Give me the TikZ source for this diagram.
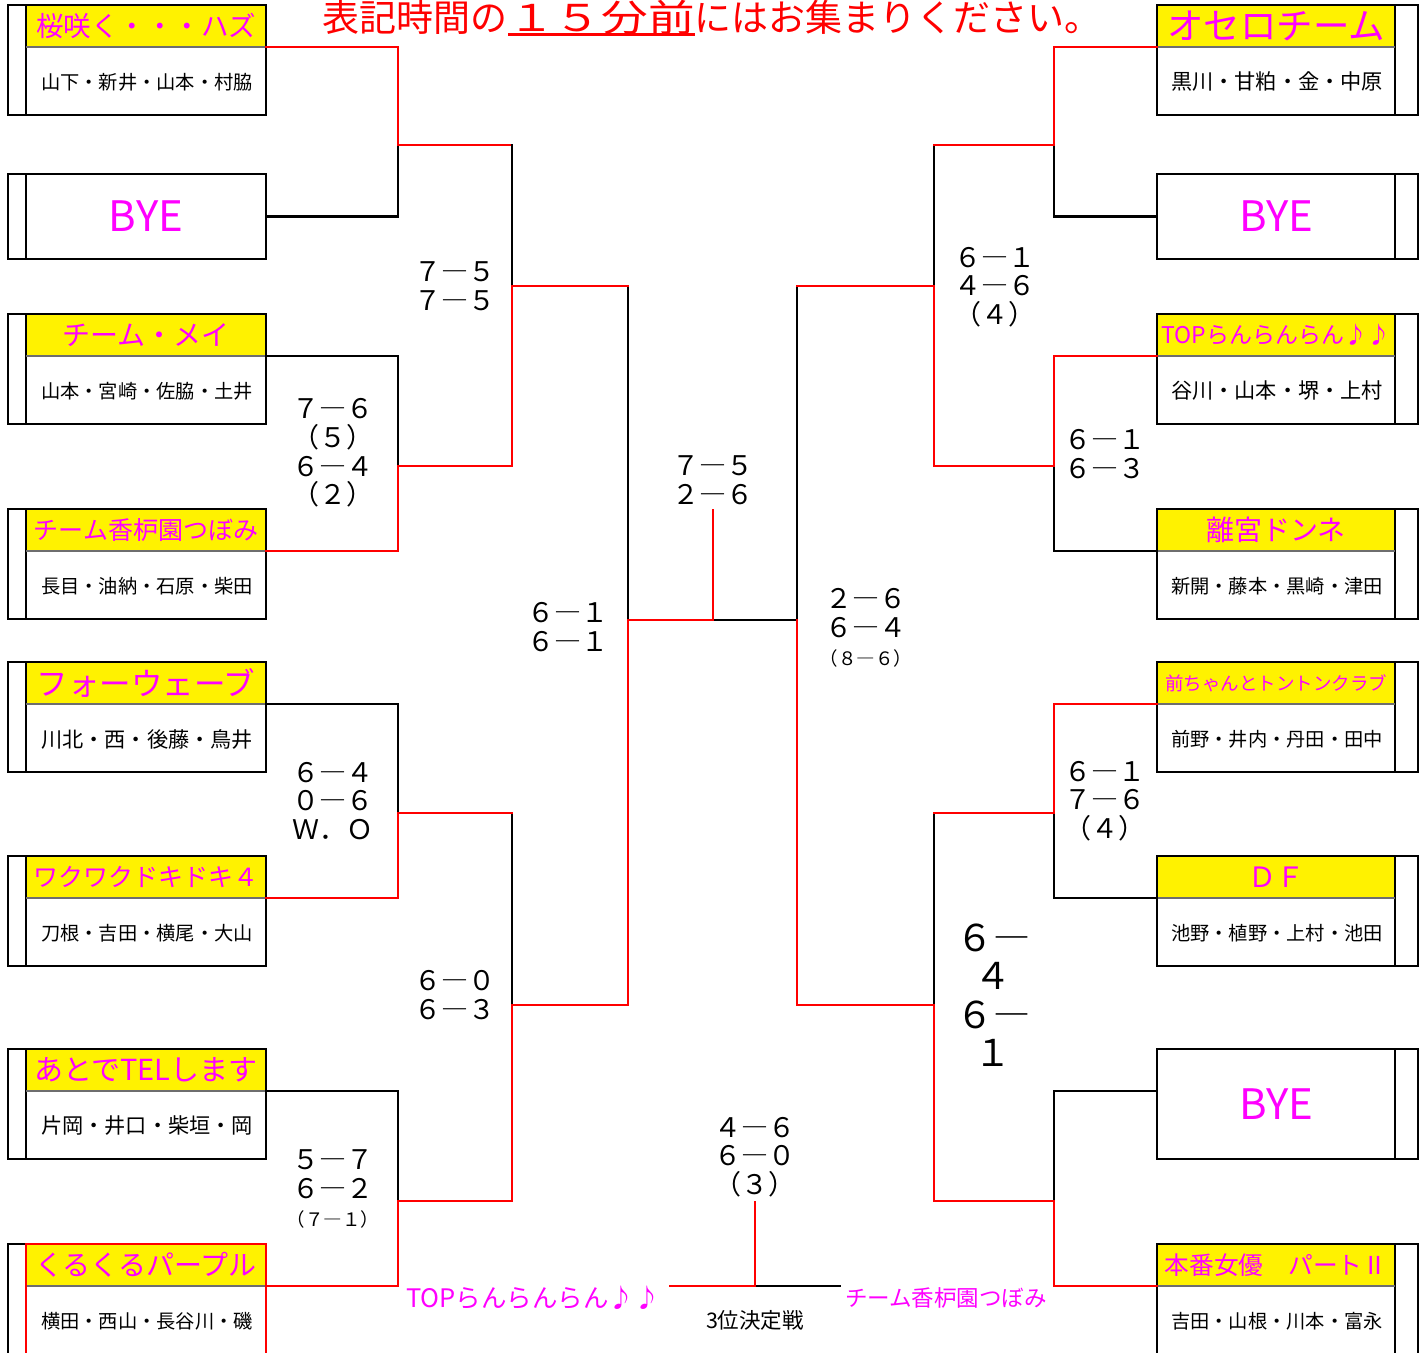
\documentclass[tikz,border=0pt]{standalone}
\usepackage{fontspec}
\usepackage{graphicx}
\setmainfont{Noto Sans CJK JP}
\definecolor{mag}{RGB}{255,0,255}
\definecolor{sepgray}{RGB}{110,110,110}
\newcommand\fs[1]{\fontsize{#1pt}{#1pt}\selectfont}
\newcommand\memtxt[1]{\resizebox{212pt}{!}{#1}}
\tikzset{
  win/.style={red, line width=2.2pt, line cap=rect},
  lose/.style={black, line width=2.2pt, line cap=rect},
  boxln/.style={black, line width=1.3pt},
  sepln/.style={sepgray, line width=2pt},
  hdr/.style={fill=yellow, minimum height=42pt, inner sep=0pt, text=mag},
  mem/.style={inner sep=0pt, text=black, font=\fs{21}},
  byebox/.style={inner sep=0pt, text=mag, font=\fs{42}},
  score/.style={inner sep=0pt, align=center, text=black, font=\fontsize{27pt}{28.7pt}\selectfont},
  lbl/.style={inner sep=0pt, text=mag},
}
\newcommand\lteam[5]{%
  \node[hdr, font=\fs{#3}, minimum width=240pt] (#1) at (146,{#2+21}) {#4};
  \draw[boxln] (8,#2) rectangle (266,{#2+110}) (26,#2) -- (26,{#2+110});
  \draw[sepln] (#1.south west) -- (#1.south east);
  \node[mem] (#1m) at (147,{#2+77}) {\memtxt{#5}};
}
\newcommand\rteam[5]{%
  \node[hdr, font=\fs{#3}, minimum width=238pt] (#1) at (1276,{#2+21}) {#4};
  \draw[boxln] (1157,#2) rectangle (1418,{#2+110}) (1395,#2) -- (1395,{#2+110});
  \draw[sepln] (#1.south west) -- (#1.south east);
  \node[mem] (#1m) at (1277,{#2+77}) {\memtxt{#5}};
}
\begin{document}
\begin{tikzpicture}[x=1pt,y=-1pt]
\useasboundingbox (0,0) rectangle (1424,1352);
\fill[white] (0,0) rectangle (1424,1352);
\clip (0,0) rectangle (1424,1352);

% title
\node[anchor=base west, inner sep=0pt, text=red, font=\fs{37}] (tA) at (322,31) {表記時間の};
\node[anchor=base west, inner sep=0pt, text=red, font=\fs{37}] (tB) at (508,31) {\scalebox{1.26}[1]{１５分前}};
\node[anchor=base west, inner sep=0pt, text=red, font=\fs{37}] (tC) at (694,31) {にはお集まりください。};
\draw[red, line width=3pt] ([yshift=-3.5pt]tB.base west) -- ([yshift=-3.5pt]tB.base east);

% left teams
\lteam{L1}{5}{27.5}{桜咲く・・・ハズ}{山下・新井・山本・村脇}
\node[byebox, minimum width=240pt, minimum height=85pt] (L2) at (146,216.5) {BYE};
\draw[boxln] (8,174) rectangle (266,259) (26,174) -- (26,259);
\lteam{L3}{314}{28}{チーム・メイ}{山本・宮崎・佐脇・土井}
\lteam{L4}{509}{25}{チーム香枦園つぼみ}{長目・油納・石原・柴田}
\lteam{L5}{662}{31.5}{フォーウェーブ}{川北・西・後藤・鳥井}
\lteam{L6}{856}{25}{ワクワクドキドキ４}{刀根・吉田・横尾・大山}
\lteam{L7}{1049}{29}{あとでTELします}{片岡・井口・柴垣・岡}
% left box 8 (highlighted)
\node[hdr, font=\fs{28}, minimum width=240pt] (L8) at (146,1265) {くるくるパープル};
\draw[boxln] (8,1360) -- (8,1244) -- (26,1244);
\draw[red, line width=2.5pt] (26,1360) -- (26,1244) -- (266,1244) -- (266,1360);
\draw[sepln] ([xshift=1.3pt]L8.south west) -- ([xshift=-1.3pt]L8.south east);
\node[mem] (L8m) at (147,1321) {\memtxt{横田・西山・長谷川・磯}};

% right teams
\rteam{R1}{5}{36.5}{オセロチーム}{黒川・甘粕・金・中原}
\node[byebox, minimum width=238pt, minimum height=85pt] (R2) at (1276,216.5) {BYE};
\draw[boxln] (1157,174) rectangle (1418,259) (1395,174) -- (1395,259);
\rteam{R3}{314}{23}{TOPらんらんらん♪♪}{谷川・山本・堺・上村}
\rteam{R4}{509}{28}{離宮ドンネ}{新開・藤本・黒崎・津田}
\rteam{R5}{662}{18.5}{前ちゃんとトントンクラブ}{前野・井内・丹田・田中}
\rteam{R6}{856}{28}{ＤＦ}{池野・植野・上村・池田}
\node[byebox, minimum width=238pt, minimum height=110pt] (R7) at (1276,1104) {BYE};
\draw[boxln] (1157,1049) rectangle (1418,1159) (1395,1049) -- (1395,1159);
\coordinate (r7a) at (1157,1091);
\rteam{R8}{1244}{24.7}{本番女優　パートⅡ}{吉田・山根・川本・富永}

% junction coordinates
\coordinate (a1) at (398,145);
\coordinate (a2) at (398,466);
\coordinate (a3) at (398,813);
\coordinate (a4) at (398,1201);
\coordinate (b1) at (512,286);
\coordinate (b2) at (512,1005);
\coordinate (c1) at (628,620);
\coordinate (d1) at (1054,145);
\coordinate (d2) at (1054,466);
\coordinate (d3) at (1054,813);
\coordinate (d4) at (1054,1201);
\coordinate (e1) at (934,286);
\coordinate (e2) at (934,1005);
\coordinate (f1) at (797,620);
\coordinate (g) at (713,620);
\coordinate (gs) at (713,510);
\coordinate (h) at (755,1286);
\coordinate (hs) at (755,1202);
\coordinate (hl) at (670,1286);
\coordinate (hr) at (840,1286);

% left bracket
\draw[lose] (L2.east) -| (a1);
\draw[win] (L1.south east) -| (a1);
\draw[win] (a1) -- (a1 -| b1);
\draw[lose] (a1 -| b1) -- (b1);
\draw[lose] (L3.south east) -| (a2);
\draw[win] (L4.south east) -| (a2);
\draw[win] (a2) -| (b1);
\draw[lose] (b1 -| c1) -- (c1);
\draw[win] (b1) -- (b1 -| c1);
\draw[lose] (L5.south east) -| (a3);
\draw[win] (L6.south east) -| (a3);
\draw[lose] (a3 -| b2) -- (b2);
\draw[win] (a3) -- (a3 -| b2);
\draw[lose] (L7.south east) -| (a4);
\draw[win] (L8.south east) -| (a4);
\draw[win] (a4) -| (b2);
\draw[win] (b2) -| (c1);

% final
\draw[lose] (g) -- (f1);
\draw[win] (c1) -- (g) -- (gs);

% right bracket
\draw[lose] (R2.west) -| (d1);
\draw[win] (R1.south west) -| (d1);
\draw[lose] (d1 -| e1) -- (e1);
\draw[win] (d1) -- (d1 -| e1);
\draw[lose] (R4.south west) -| (d2);
\draw[win] (R3.south west) -| (d2);
\draw[win] (d2) -| (e1);
\draw[lose] (f1) -- (f1 |- e1);
\draw[win] (f1 |- e1) -- (e1);
\draw[lose] (R6.south west) -| (d3);
\draw[win] (R5.south west) -| (d3);
\draw[lose] (d3 -| e2) -- (e2);
\draw[win] (d3) -- (d3 -| e2);
\draw[lose] (r7a) -| (d4);
\draw[win] (R8.south west) -| (d4);
\draw[win] (d4) -| (e2);
\draw[win] (f1) |- (e2);

% third place
\draw[lose] (h) -- (hr);
\draw[win] (hl) -- (h) -- (hs);

% scores
\node[score] (sL1) at (333,453) {７―６\\（５）\\６―４\\（２）};
\node[score] (sL2) at (333,801) {６―４\\０―６\\Ｗ．Ｏ};
\node[score] (sL3) at (333,1189) {５―７\\６―２\\\fontsize{18.5pt}{26pt}\selectfont（７―１）};
\node[score] (sL4) at (455,286) {７―５\\７―５};
\node[score] (sL5) at (455,995) {６―０\\６―３};
\node[score] (sL6) at (568,627) {６―１\\６―１};
\node[score] (sF) at (713,480) {７―５\\２―６};
\node[score] (sR6) at (866,628) {２―６\\６―４\\\fontsize{18.5pt}{26pt}\selectfont（８―６）};
\node[score] (sR4) at (995,287) {６―１\\４―６\\（４）};
\node[score] (sR1) at (1105,454) {６―１\\６―３};
\node[score] (sR2) at (1105,801) {６―１\\７―６\\（４）};
\node[score, font=\fontsize{37pt}{38.5pt}\selectfont] (sR5) at (993,995) {６―\\４\\６―\\１};
\node[score] (s3) at (755,1157) {４―６\\６―０\\（３）};

% third place labels
\node[lbl, font=\fs{25.5}] (t3l) at (533,1298) {TOPらんらんらん♪♪};
\node[lbl, font=\fs{22.5}] (t3r) at (946,1298) {チーム香枦園つぼみ};
\node[inner sep=0pt, font=\fs{21.5}] (t3c) at (755,1320) {3位決定戦};
\end{tikzpicture}
\end{document}
